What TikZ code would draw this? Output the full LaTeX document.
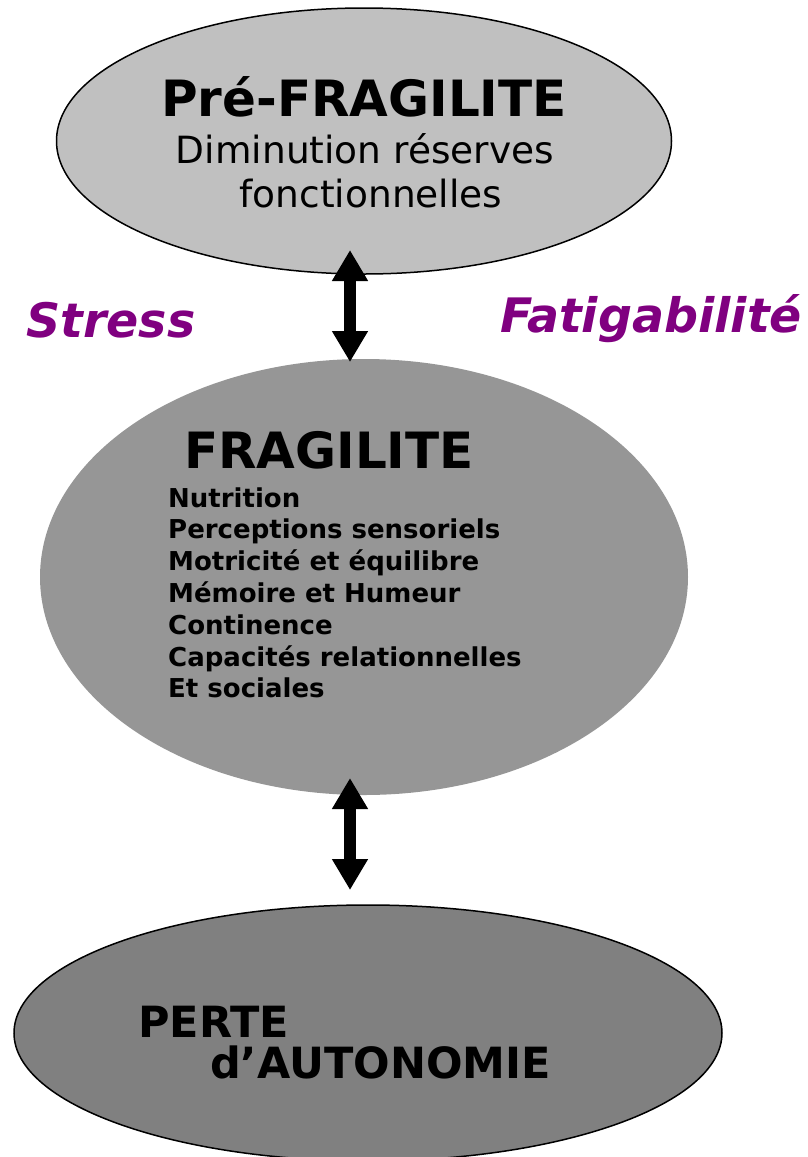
\documentclass[tikz,border=0pt]{standalone}
\usepackage{fontspec}
\setmainfont{DejaVu Sans}
\usetikzlibrary{shapes.geometric,arrows.meta}
\definecolor{topgray}{HTML}{C0C0C0}
\definecolor{midgray}{HTML}{969696}
\definecolor{botgray}{HTML}{808080}
\definecolor{violet}{HTML}{800080}
\tikzset{
  blob/.style={ellipse, inner sep=0pt},
  dblarrow/.style={line width=12pt, {Triangle[width=34pt,length=31pt]}-{Triangle[width=34pt,length=31pt]}},
  side/.style={font=\fontsize{47.5}{50}\selectfont\bfseries\itshape, text=violet, inner sep=0pt, anchor=base},
  listtxt/.style={font=\fontsize{26}{31.8}\selectfont\bfseries, inner sep=0pt, anchor=base west}
}
\begin{document}
\begin{tikzpicture}[x=1pt,y=-1pt]
\useasboundingbox (0,0) rectangle (808,1157);
\node[blob, fill=topgray, draw=black, line width=1.5pt, minimum width=615pt, minimum height=266pt] (pre) at (364,141) {};
\node[blob, fill=midgray, minimum width=648pt, minimum height=436pt] (mid) at (364,577) {};
\node[blob, fill=botgray, draw=black, line width=1.5pt, minimum width=708pt, minimum height=256pt] (bot) at (368,1033) {};

\node[inner sep=0pt, anchor=base, font=\fontsize{50}{50}\selectfont\bfseries] (pretitle) at (364,116) {Pré-FRAGILITE};
\node[inner sep=0pt, anchor=base, font=\fontsize{37.5}{40}\selectfont] (pre1) at (365,163) {Diminution réserves};
\node[inner sep=0pt, anchor=base, font=\fontsize{37.5}{40}\selectfont] (pre2) at (371,207) {fonctionnelles};

\node[side] (stress) at (111,337) {Stress};
\node[side] (fatig) at (651,332) {Fatigabilité};

\node[inner sep=0pt, anchor=base, font=\fontsize{50}{50}\selectfont\bfseries] (midtitle) at (329,468) {FRAGILITE};
\node[listtxt] (l1) at (168,507) {Nutrition};
\node[listtxt] (l2) at (168,538.8) {Perceptions sensoriels};
\node[listtxt] (l3) at (168,570.6) {Motricité et équilibre};
\node[listtxt] (l4) at (168,602.4) {Mémoire et Humeur};
\node[listtxt] (l5) at (168,634.2) {Continence};
\node[listtxt] (l6) at (168,666) {Capacités relationnelles};
\node[listtxt] (l7) at (168,697.8) {Et sociales};

\node[inner sep=0pt, anchor=base west, font=\fontsize{43}{43}\selectfont\bfseries] (perte) at (138,1037) {PERTE};
\node[inner sep=0pt, anchor=base west, font=\fontsize{43}{43}\selectfont\bfseries] (auto) at (210,1078) {d’AUTONOMIE};

\coordinate (a1t) at (350,250);
\coordinate (a1b) at (350,362);
\coordinate (a2t) at (350,778);
\coordinate (a2b) at (350,890);
\draw[dblarrow] (a1t) -- (a1b);
\draw[dblarrow] (a2t) -- (a2b);
\end{tikzpicture}
\end{document}
